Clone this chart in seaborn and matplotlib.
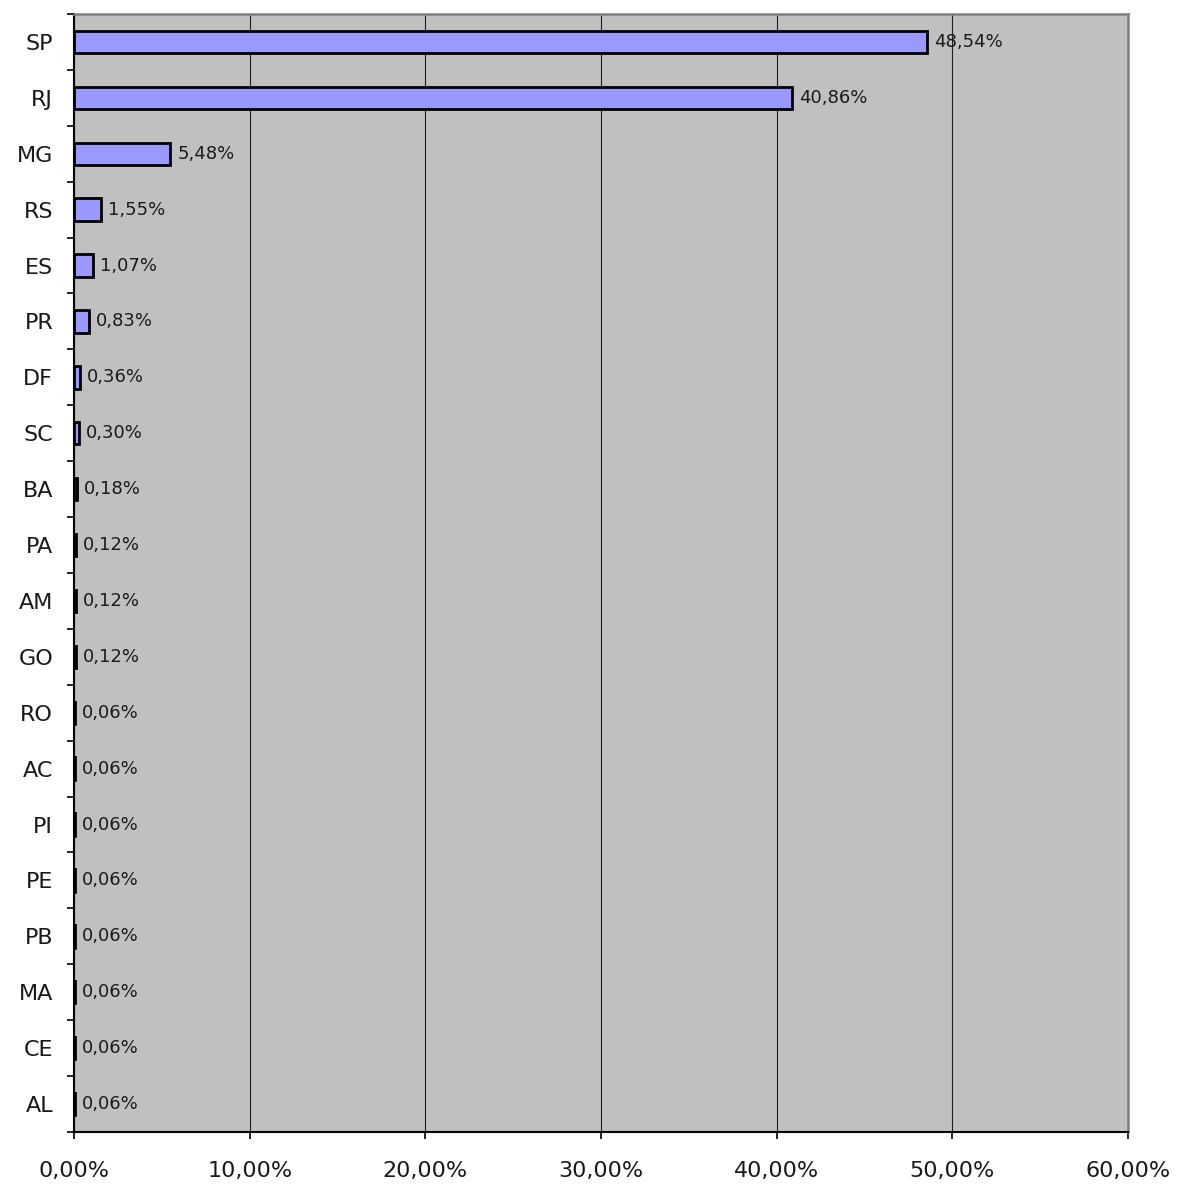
import matplotlib
matplotlib.use("Agg")
import matplotlib.pyplot as plt
import seaborn as sns
import pandas as pd
from matplotlib.ticker import FixedLocator, FuncFormatter

states = ["SP", "RJ", "MG", "RS", "ES", "PR", "DF", "SC", "BA", "PA",
          "AM", "GO", "RO", "AC", "PI", "PE", "PB", "MA", "CE", "AL"]
shares = [48.54, 40.86, 5.48, 1.55, 1.07, 0.83, 0.36, 0.30, 0.18, 0.12,
          0.12, 0.12, 0.06, 0.06, 0.06, 0.06, 0.06, 0.06, 0.06, 0.06]
xticks = [0, 10, 20, 30, 40, 50, 60]

df = pd.DataFrame({"state": states, "share": shares})

sns.set_theme(style="white")
plt.rcParams["font.family"] = ["DejaVu Sans"]

fig = plt.figure(figsize=(11.78, 11.86), dpi=100)
ax = fig.add_axes([74/1178, 1 - 1132/1186, (1128-74)/1178, (1132-14)/1186])

sns.barplot(data=df, x="share", y="state", orient="h", color="#9999FF",
            edgecolor="black", linewidth=2, width=0.4, ax=ax, saturation=1)

ax.set_facecolor("#C0C0C0")
ax.set_xlim(0, 60)
ax.set_ylim(len(states) - 0.5, -0.5)
ax.set_xticks(xticks)
ax.xaxis.set_major_formatter(FuncFormatter(lambda v, p: f"{v:.2f}%".replace(".", ",")))
ax.grid(axis="x", color="#202020", linewidth=0.8)
ax.set_axisbelow(True)
ax.set_xlabel("")
ax.set_ylabel("")

ax.yaxis.set_minor_locator(FixedLocator([i - 0.5 for i in range(len(states) + 1)]))
ax.tick_params(axis="y", which="major", length=0, pad=15, labelsize=16, labelcolor="#1a1a1a")
ax.tick_params(axis="y", which="minor", length=5, width=1.2, color="black", left=True)
ax.tick_params(axis="x", which="major", length=5, width=1.2, color="black", bottom=True,
               pad=16, labelsize=16, labelcolor="#1a1a1a")

for side in ["left", "bottom"]:
    ax.spines[side].set_color("black")
    ax.spines[side].set_linewidth(1.5)
for side in ["top", "right"]:
    ax.spines[side].set_color("#808080")
    ax.spines[side].set_linewidth(1.8)

for cont in ax.containers:
    ax.bar_label(cont, labels=[f"{v:.2f}%".replace(".", ",") for v in shares],
                 padding=5, fontsize=13, color="#1a1a1a")

fig.savefig("out.png", dpi=100)
